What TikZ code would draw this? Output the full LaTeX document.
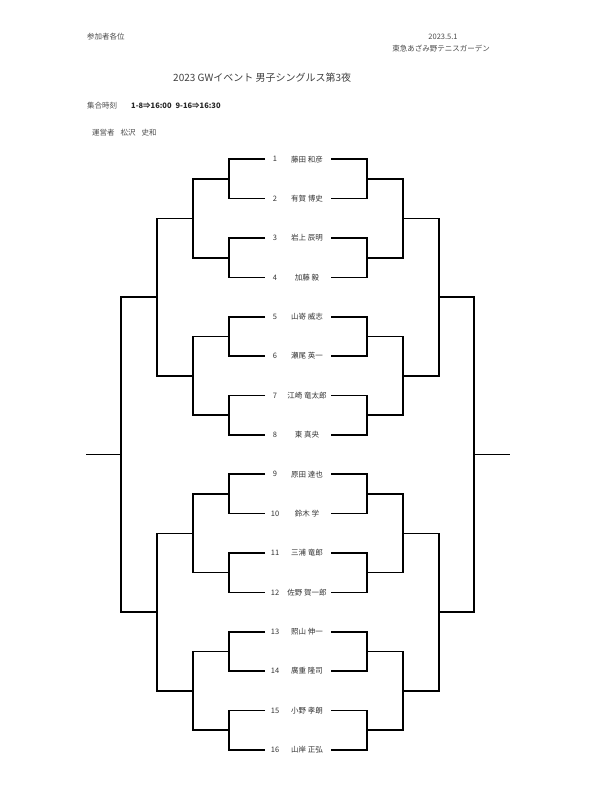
\documentclass[tikz,border=0pt]{standalone}
\usepackage{fontspec}
\setmainfont{Noto Sans CJK JP}
\begin{document}
\begin{tikzpicture}[x=1pt,y=-1pt,
  hd/.style={inner sep=0pt, font=\fontsize{7.5}{9}\selectfont, text=black!70},
  ttl/.style={inner sep=0pt, font=\fontsize{10}{12}\selectfont, text=black!75},
  num/.style={inner sep=0pt, font=\fontsize{7.5}{9}\selectfont, text=black!80},
  nm/.style={inner sep=0pt, font=\fontsize{7.5}{9}\selectfont, text=black!80},
  bk/.style={line width=1.6pt, black, line join=miter}]
\useasboundingbox (0,0) rectangle (600,786);
\fill[white] (0,0) rectangle (600,786);
% header
\node[hd, anchor=west] (sanka) at (87,37) {参加者各位};
\node[hd] (date) at (443,37) {2023.5.1};
\node[hd] (venue) at (441,49) {東急あざみ野テニスガーデン};
\node[ttl, anchor=west] (title) at (173,78) {2023 GWイベント 男子シングルス第3夜};
\node[hd, anchor=west] (shugo) at (87,106) {集合時刻};
\node[hd, anchor=west, text=black!85, font=\fontsize{7.5}{9}\selectfont\bfseries] (time) at (131,106) {1-8⇒16:00\hspace{4pt}9-16⇒16:30};
\node[hd, anchor=west] (unei) at (92,133) {運営者\hspace{6pt}松沢\hspace{6pt}史和};
% players
\foreach \i/\n in {1/藤田 和彦,2/有賀 博史,3/岩上 辰明,4/加藤 毅,5/山嵜 威志,6/瀬尾 英一,7/江崎 竜太郎,8/東 真央,9/原田 達也,10/鈴木 学,11/三浦 竜郎,12/佐野 賀一郎,13/照山 伸一,14/廣重 隆司,15/小野 孝朗,16/山岸 正弘}{
  \pgfmathsetmacro\yy{159.3+(\i-1)*39.37}
  \coordinate (L\i) at (265,\yy);
  \coordinate (R\i) at (331,\yy);
  \node[num] (n\i) at (275,\yy) {\i};
  \node[nm] (p\i) at (307,\yy) {\n};
}
% junction coordinates
\foreach \k in {1,...,8}{
  \pgfmathsetmacro\yy{159.3+(2*\k-1.5)*39.37}
  \coordinate (LA\k) at (229,\yy);
  \coordinate (RA\k) at (367,\yy);
}
\foreach \k in {1,...,4}{
  \pgfmathsetmacro\yy{159.3+(4*\k-2.5)*39.37}
  \coordinate (LB\k) at (193,\yy);
  \coordinate (RB\k) at (403,\yy);
}
\foreach \k in {1,2}{
  \pgfmathsetmacro\yy{159.3+(8*\k-4.5)*39.37}
  \coordinate (LC\k) at (157,\yy);
  \coordinate (RC\k) at (439,\yy);
}
\pgfmathsetmacro\ym{159.3+7.5*39.37}
\coordinate (LD) at (121,\ym);
\coordinate (RD) at (474,\ym);
\coordinate (LF) at (86,\ym);
\coordinate (RF) at (510,\ym);
% brackets
\foreach \k [evaluate=\k as \a using int(2*\k-1), evaluate=\k as \b using int(2*\k)] in {1,...,8}{
  \draw[bk] (L\a) -| (LA\k) |- (L\b);
  \draw[bk] (R\a) -| (RA\k) |- (R\b);
}
\foreach \k [evaluate=\k as \a using int(2*\k-1), evaluate=\k as \b using int(2*\k)] in {1,...,4}{
  \draw[bk] (LA\a) -| (LB\k) |- (LA\b);
  \draw[bk] (RA\a) -| (RB\k) |- (RA\b);
}
\foreach \k [evaluate=\k as \a using int(2*\k-1), evaluate=\k as \b using int(2*\k)] in {1,2}{
  \draw[bk] (LB\a) -| (LC\k) |- (LB\b);
  \draw[bk] (RB\a) -| (RC\k) |- (RB\b);
}
\draw[bk] (LC1) -| (LD) |- (LC2);
\draw[bk] (RC1) -| (RD) |- (RC2);
\draw[bk] (LD) -- (LF);
\draw[bk] (RD) -- (RF);
\end{tikzpicture}
\end{document}
